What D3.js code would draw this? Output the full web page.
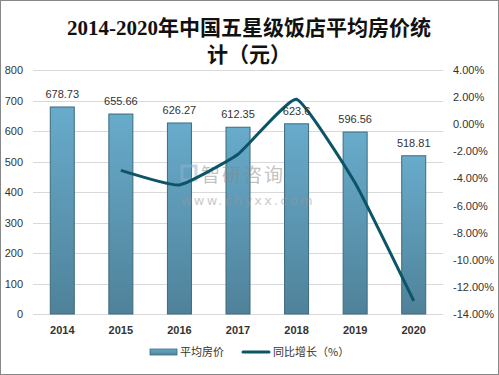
<!DOCTYPE html>
<html><head><meta charset="utf-8">
<script src="https://cdn.jsdelivr.net/npm/d3@7"></script>
<style>body{margin:0;background:#fff}svg{display:block}</style>
</head><body><svg id="c" width="499" height="375"></svg>
<script>
const years = ["2014","2015","2016","2017","2018","2019","2020"];
const prices = [678.73,655.66,626.27,612.35,623.6,596.56,518.81];
const growth = [null,-3.40,-4.48,-2.22,1.84,-4.34,-13.03];
const leftTicks = [0,100,200,300,400,500,600,700,800];
const rightTicks = [4,2,0,-2,-4,-6,-8,-10,-12,-14];
const titleLines = ["2014-2020年中国五星级饭店平均房价统","计（元）"];
const legendNames = ["平均房价","同比增长（%）"];

const svg = d3.select("#c");
const L=33,R=443,T=70,B=314;
const x = d3.scaleBand().domain(years).range([L,R]).paddingInner(0.59).paddingOuter(0.295);
const y = d3.scaleLinear().domain([0,800]).range([B,T]);
const y2 = d3.scaleLinear().domain([-14,4]).range([B,T]);

const defs = svg.append("defs");
const g = defs.append("linearGradient").attr("id","bg").attr("x1",0).attr("y1",0).attr("x2",0).attr("y2",1);
g.append("stop").attr("offset","0%").attr("stop-color","#68abcb");
g.append("stop").attr("offset","100%").attr("stop-color","#4f8299");
const g2 = defs.append("linearGradient").attr("id","lg").attr("x1",0).attr("y1",0).attr("x2",0).attr("y2",1);
g2.append("stop").attr("offset","0%").attr("stop-color","#68abcb");
g2.append("stop").attr("offset","100%").attr("stop-color","#4f8299");

svg.append("rect").attr("x",0.5).attr("y",0.5).attr("width",498).attr("height",374).attr("fill","#fff").attr("stroke","#888");

// title
svg.append("g").selectAll("text").data(titleLines).join("text")
  .attr("x",249).attr("y",(d,i)=>35+i*27).attr("text-anchor","middle")
  .attr("font-family","'Liberation Serif','Noto Sans CJK SC',serif").attr("font-size",21).attr("font-weight","bold")
  .attr("fill","#111").text(d=>d);

// grid
svg.append("g").selectAll("line").data(leftTicks).join("line")
  .attr("x1",L).attr("x2",R).attr("y1",d=>Math.round(y(d))+0.5).attr("y2",d=>Math.round(y(d))+0.5)
  .attr("stroke","#d9d9d9").attr("stroke-width",1);

// left axis
const ax = svg.append("g").attr("transform",`translate(${L-10},0)`)
  .call(d3.axisLeft(y).tickValues(leftTicks).tickSize(0).tickPadding(0));
ax.select(".domain").remove();
ax.selectAll("text").attr("font-family","'Liberation Sans',Arial,sans-serif").attr("font-size",11).attr("fill","#333");

const ax2 = svg.append("g").attr("transform",`translate(${R+10},0)`)
  .call(d3.axisRight(y2).tickValues(rightTicks).tickSize(0).tickPadding(0).tickFormat(d=>d.toFixed(2)+"%"));
ax2.select(".domain").remove();
ax2.selectAll("text").attr("font-family","'Liberation Sans',Arial,sans-serif").attr("font-size",11).attr("fill","#333");

const ax3 = svg.append("g").attr("transform",`translate(0,${B+12})`)
  .call(d3.axisBottom(x).tickSize(0).tickPadding(0));
ax3.select(".domain").remove();
ax3.selectAll("text").attr("font-family","'Liberation Sans',Arial,sans-serif").attr("font-size",11).attr("font-weight","bold").attr("fill","#333");

// bars
svg.append("g").selectAll("rect").data(prices).join("rect")
  .attr("x",(d,i)=>x(years[i])).attr("y",d=>y(d)).attr("width",x.bandwidth()).attr("height",d=>B-y(d))
  .attr("fill","url(#bg)").attr("stroke","#3e6a7e").attr("stroke-width",1);

// watermark
const wm = svg.append("g").attr("opacity",0.5);
wm.append("rect").attr("x",182).attr("y",166).attr("width",14).attr("height",14).attr("fill","none").attr("stroke","#8fb3d3").attr("stroke-width",3);
wm.append("text").attr("x",201).attr("y",182).attr("font-family","'Noto Sans CJK SC',sans-serif").attr("font-size",19).attr("fill","#888").attr("letter-spacing",2).text("智研咨询");
wm.append("text").attr("x",181).attr("y",205).attr("font-family","'DejaVu Sans',sans-serif").attr("font-size",13).attr("fill","#999").attr("letter-spacing",2.2).text("www.chyxx.com");

// line
const pts = growth.map((d,i)=>d==null?null:[x(years[i])+x.bandwidth()/2,y2(d)]).filter(p=>p);
svg.append("path").attr("d",d3.line().curve(d3.curveCardinal.tension(0.6))(pts))
  .attr("fill","none").attr("stroke","#0c5568").attr("stroke-width",3).attr("stroke-linejoin","round");

// labels
svg.append("g").selectAll("text").data(prices).join("text")
  .attr("x",(d,i)=>x(years[i])+x.bandwidth()/2).attr("y",d=>y(d)-9).attr("text-anchor","middle")
  .attr("font-family","'Liberation Sans',Arial,sans-serif").attr("font-size",11).attr("fill","#333").text(d=>d);

// legend
const lg = svg.append("g");
lg.append("rect").attr("x",150).attr("y",349).attr("width",27).attr("height",6).attr("fill","url(#lg)").attr("stroke","#3e6a7e").attr("stroke-width",0.8);
lg.append("text").attr("x",180).attr("y",356).attr("font-family","'Noto Sans CJK SC',sans-serif").attr("font-size",11).attr("fill","#333").text(legendNames[0]);
lg.append("line").attr("x1",243).attr("x2",269).attr("y1",352).attr("y2",352).attr("stroke","#0c5568").attr("stroke-width",3).attr("stroke-linecap","round");
lg.append("text").attr("x",273).attr("y",356).attr("font-family","'Noto Sans CJK SC',sans-serif").attr("font-size",11).attr("fill","#333").text(legendNames[1]);
</script></body></html>
